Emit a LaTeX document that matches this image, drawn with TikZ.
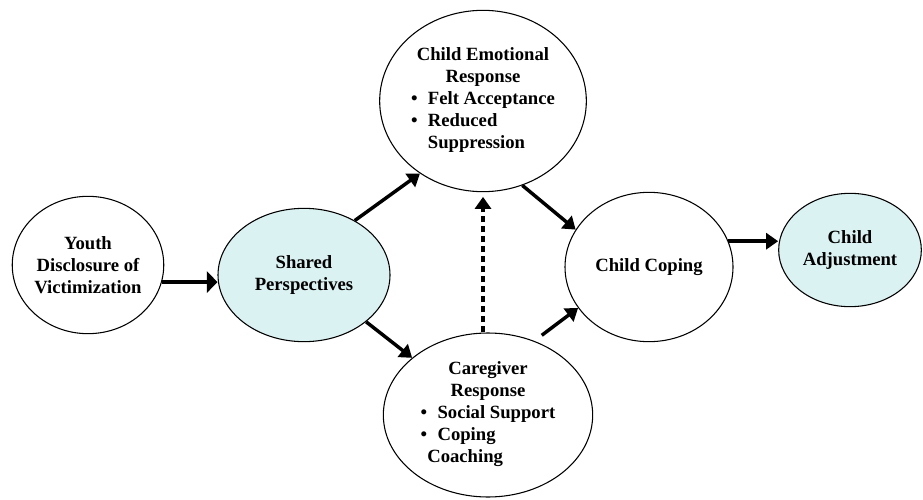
\documentclass[tikz,border=0pt]{standalone}
\usepackage{fontspec}
\setmainfont{Liberation Serif}
\usetikzlibrary{arrows.meta,shapes.geometric}
\definecolor{paleteal}{RGB}{218,243,242}

\begin{document}
\begin{tikzpicture}[x=0.75pt,y=-0.75pt,
  bubble/.style={ellipse,draw=black,line width=0.8pt,inner sep=0pt,align=center,font=\bfseries\fontsize{14}{16.5}\selectfont},
  shaded/.style={bubble,fill=paleteal},
  link/.style={-{Triangle[length=9pt,width=12pt]},line width=2.6pt},
  fatlink/.style={-{Triangle[length=8pt,width=16pt]},line width=3.6pt},
  hint/.style={link,dash pattern=on 5pt off 2.5pt}]
\useasboundingbox (0,0) rectangle (923,499);
% ellipses
\node[bubble,minimum width=112pt,minimum height=103pt] (youth) at (88,265) {Youth\\Disclosure of\\Victimization};
\node[shaded,minimum width=129pt,minimum height=100pt] (shared) at (304,275) {Shared\\Perspectives};
\node[bubble,minimum width=155pt,minimum height=136pt] (emo) at (483,101) {Child Emotional\\Response\\\begin{tabular}[t]{@{}l@{\hspace{0.55em}}l@{}}\textbullet & Felt Acceptance\\\textbullet & Reduced\\ & Suppression\end{tabular}};
\node[bubble,minimum width=157pt,minimum height=123pt] (cg) at (488,415) {Caregiver\\Response\\\begin{tabular}[t]{@{}l@{\hspace{0.55em}}l@{}}\textbullet & Social Support\\\textbullet & Coping\\\multicolumn{2}{@{\hspace{0.35em}}l@{}}{Coaching}\end{tabular}};
\node[bubble,minimum width=126pt,minimum height=112pt] (cope) at (649,267) {Child Coping};
\node[shaded,minimum width=107pt,minimum height=85pt] (adj) at (850,250) {Child\\Adjustment};
% paths
\draw[fatlink] (youth.-13) -- (youth.-13 -| shared.west);
\draw[link] (shared.47) -- (emo.229);
\draw[link] (shared.323) -- (cg.143);
\draw[hint,shorten >=3.5pt] (emo.south |- cg.north) -- (emo.south);
\draw[link] (emo.295) -- (cope.153);
\draw[link,shorten <=7pt] (cg.58) -- (cope.210);
\draw[link] (cope.18) -- (cope.18 -| adj.west);
\end{tikzpicture}
\end{document}
